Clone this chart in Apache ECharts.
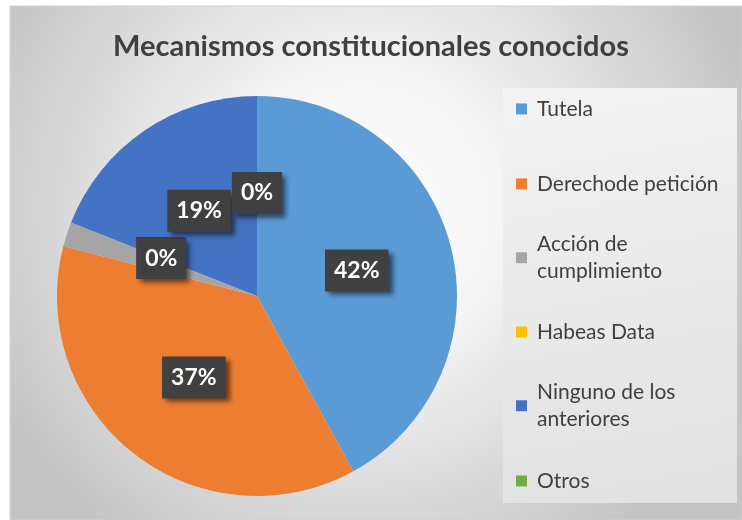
<!DOCTYPE html>
<html>
<head>
<meta charset="utf-8">
<script src="https://cdn.jsdelivr.net/npm/echarts@6/dist/echarts.min.js"></script>
<style>
  html, body { margin: 0; padding: 0; background: #fff; }
  #main { width: 742px; height: 520px; }
</style>
</head>
<body>
<div id="main"></div>
<script>
// datos del gráfico
const categorias = ['Tutela', 'Derechode petición', 'Acción de cumplimiento', 'Habeas Data', 'Ninguno de los anteriores', 'Otros']
const leyendaTexto = ['Tutela', 'Derechode petición', 'Acción de\ncumplimiento', 'Habeas Data', 'Ninguno de los\nanteriores', 'Otros']
const porcentajes = [42, 37, 2, 0, 19, 0]
const colores = ['#5B9BD5', '#ED7D31', '#A5A5A5', '#FFC000', '#4472C4', '#70AD47']

const myChart = echarts.init(document.getElementById('main'), null, { renderer: 'canvas' })

// una leyenda por elemento, para dejar el icono en la primera línea
const centrosLeyenda = [109, 184, 258, 332, 406, 481]
const leyendas = categorias.map(function (nombre, i) {
  const dosLineas = leyendaTexto[i].indexOf('\n') >= 0
  return {
    orient: 'vertical',
    left: 516,
    top: centrosLeyenda[i] - (dosLineas ? 41.5 : 13.8),
    padding: 0,
    itemWidth: 11,
    itemHeight: 11,
    icon: 'rect',
    selectedMode: false,
    data: [nombre],
    formatter: function () { return leyendaTexto[i] },
    textStyle: {
      color: '#404040',
      fontSize: 21,
      fontFamily: 'Lato',
      lineHeight: 27.5,
      padding: dosLineas ? [27.5, 0, 0, 5] : [0, 0, 0, 5]
    }
  }
})

myChart.setOption({
  animation: false,
  color: colores,
  graphic: [
    {
      type: 'rect',
      z: -10,
      shape: { x: 10, y: 6, width: 732, height: 514 },
      style: {
        fill: {
          type: 'radial', x: 0.48, y: 0.4, r: 0.8,
          colorStops: [
            { offset: 0, color: '#ffffff' },
            { offset: 0.35, color: '#f4f4f4' },
            { offset: 1, color: '#c4c4c4' }
          ]
        },
        stroke: '#d0d0d0',
        lineWidth: 1
      }
    },
    {
      type: 'rect',
      z: -9,
      shape: { x: 503, y: 88, width: 234, height: 415 },
      style: {
        fill: {
          type: 'linear', x: 0, y: 0, x2: 0.3, y2: 1,
          colorStops: [
            { offset: 0, color: '#f3f3f3' },
            { offset: 1, color: '#e2e2e2' }
          ]
        }
      }
    }
  ],
  title: {
    text: 'Mecanismos constitucionales conocidos',
    left: 'center',
    top: 27,
    textStyle: {
      color: '#404040',
      fontSize: 29,
      fontWeight: 'bold',
      fontFamily: 'Lato'
    }
  },
  legend: leyendas,
  series: [
    {
      type: 'pie',
      center: [257, 296],
      radius: 200,
      startAngle: 90,
      clockwise: true,
      emphasis: { disabled: true },
      label: {
        show: true,
        position: 'inside',
        formatter: function (p) { return Math.round(p.percent) + '%' },
        color: '#ffffff',
        fontSize: 23,
        fontWeight: 'bold',
        fontFamily: 'Lato',
        backgroundColor: '#404040',
        padding: [10, 9, 9, 9],
        shadowColor: 'rgba(0,0,0,0.55)',
        shadowBlur: 5,
        shadowOffsetX: 4,
        shadowOffsetY: 4
      },
      labelLine: { show: false },
      data: categorias.map(function (nombre, i) {
        const item = { name: nombre, value: porcentajes[i] }
        // la etiqueta de este sector queda tapada por la de Habeas Data
        if (i === 2) item.label = { show: false }
        return item
      })
    }
  ]
})
</script>
</body>
</html>
